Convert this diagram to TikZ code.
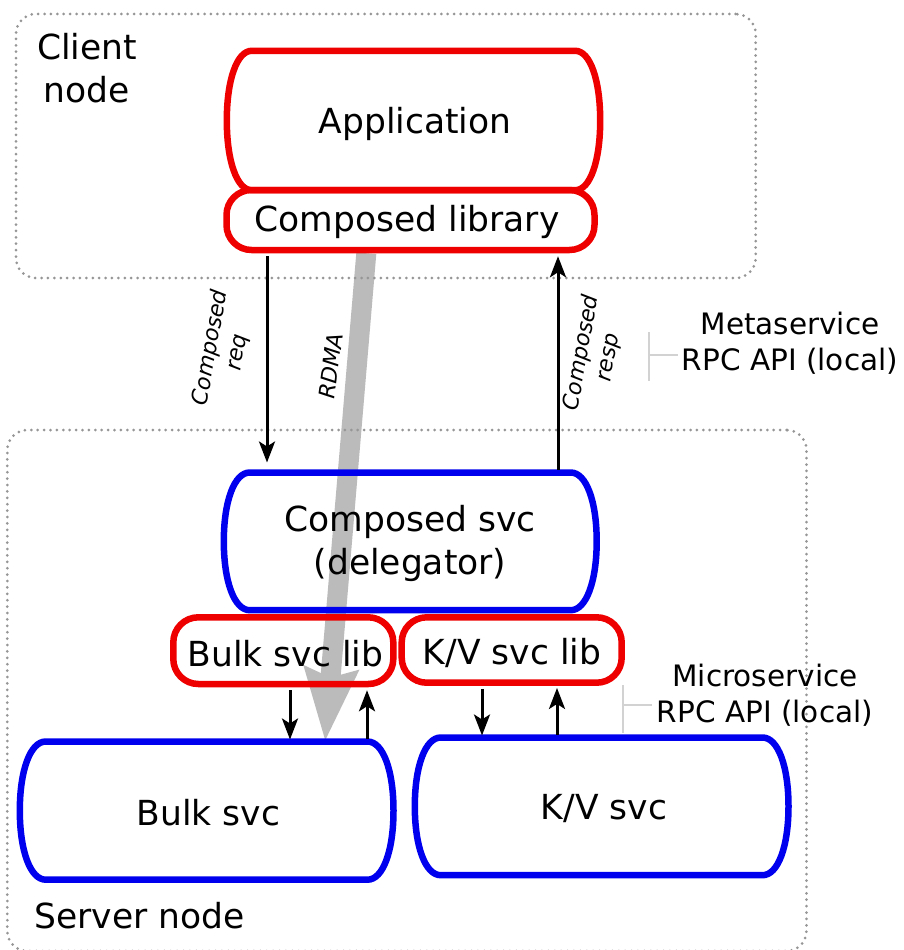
\documentclass[tikz,border=0pt]{standalone}
\usepackage{fontspec}
\setmainfont{DejaVu Sans}
\usetikzlibrary{calc,arrows.meta}
\definecolor{libred}{RGB}{238,0,0}
\definecolor{svcblue}{RGB}{0,0,238}
\definecolor{dotgray}{RGB}{150,150,150}
\definecolor{rdmagray}{RGB}{187,187,187}
\definecolor{brgray}{RGB}{210,210,210}
\pgfdeclarelayer{background}
\pgfsetlayers{background,main}

% barrel outline: straight top/bottom, sides bulging out to the node's east/west
\newcommand\drawbarrel[3]{%
  \draw[#1] ($(#2.north west)+(#3,0)$) -- ($(#2.north east)+(-#3,0)$)
    .. controls ($(#2.north east)+(-0.4*#3,0)$) and ($(#2.north east)!0.42!(#2.east)$) .. (#2.east)
    .. controls ($(#2.south east)!0.42!(#2.east)$) and ($(#2.south east)+(-0.4*#3,0)$) .. ($(#2.south east)+(-#3,0)$)
    -- ($(#2.south west)+(#3,0)$)
    .. controls ($(#2.south west)+(0.4*#3,0)$) and ($(#2.south west)!0.42!(#2.west)$) .. (#2.west)
    .. controls ($(#2.north west)!0.42!(#2.west)$) and ($(#2.north west)+(0.4*#3,0)$) .. cycle;
}

\tikzset{
  bigtxt/.style={font=\fontsize{34.5pt}{43pt}\selectfont},
  midtxt/.style={font=\fontsize{29.5pt}{36pt}\selectfont},
  smalltxt/.style={font=\fontsize{22pt}{27pt}\selectfont\itshape},
  boxnode/.style={bigtxt, inner sep=0pt, align=center},
  libbox/.style={boxnode, draw=libred, line width=6.5pt, rounded corners=25pt},
  redline/.style={draw=libred, line width=6.5pt},
  blueline/.style={draw=svcblue, line width=6.5pt},
  container/.style={draw=dotgray, line width=3pt, dash pattern=on 0pt off 6.4pt,
    line cap=round, rounded corners=20pt, inner sep=0pt},
  flow/.style={line width=3pt, -{Stealth[length=21pt,width=16pt,inset=5pt]}},
  rdma/.style={draw=rdmagray, line width=20pt, -{Stealth[length=72pt,width=52pt,inset=8pt]}},
  bracket/.style={draw=brgray, line width=2.5pt},
}

\begin{document}
\begin{tikzpicture}[x=1pt,y=-1pt]
\useasboundingbox (0,0) rectangle (904,950);

% node containers
\node[container, minimum width=739.7pt, minimum height=264pt] (client) at (385.85,146) {};
\node[container, minimum width=799.2pt, minimum height=521pt] (server) at (406.9,690.5) {};
\node[bigtxt, align=center, inner sep=0pt] (clientlbl) at (87,68) {Client\\node};
\node[bigtxt, inner sep=0pt] (serverlbl) at (139.5,916) {Server node};

% client side
\node[boxnode, minimum width=373pt, minimum height=139pt] (app) at (413.5,120.5) {};
\node[boxnode] (apptxt) at (415,124) {Application};
\node[libbox, minimum width=368pt, minimum height=60pt] (lib) at (410.5,220) {};
\node[boxnode] (libtxt) at (407,222) {Composed library};

% server side
\node[boxnode, minimum width=372.5pt, minimum height=137.3pt] (csvc) at (410.25,541.35) {};
\node[boxnode] (csvctxt) at (410,543) {Composed svc\\(delegator)};
\node[libbox, minimum width=220pt, minimum height=66.7pt] (blib) at (283.3,650.65) {};
\node[boxnode] (blibtxt) at (285.5,654) {Bulk svc lib};
\node[libbox, minimum width=220pt, minimum height=65.4pt] (kvlib) at (511.7,650) {};
\node[boxnode] (kvlibtxt) at (512,653) {K/V svc lib};
\node[boxnode, minimum width=373.3pt, minimum height=137.8pt] (bulk) at (206.65,810.6) {};
\node[boxnode] (bulktxt) at (208.5,813) {Bulk svc};
\node[boxnode, minimum width=373.3pt, minimum height=137.3pt] (kv) at (601.65,806.35) {};
\node[boxnode] (kvtxt) at (604,809) {K/V svc};

% RDMA transfer runs behind everything
\begin{pgfonlayer}{background}
  \draw[rdma] ($(lib.south west)!0.382!(lib.south east)$) -- ($(bulk.north west)!0.817!(bulk.north east)$);
\end{pgfonlayer}

\drawbarrel{redline}{app}{25}
\drawbarrel{blueline}{csvc}{26}
\drawbarrel{blueline}{bulk}{26}
\drawbarrel{blueline}{kv}{26}

% request / response flows
\draw[flow, shorten <=3pt, shorten >=10pt] (lib.south -| 267,0) -- (csvc.north -| 267,0);
\draw[flow, shorten <=3pt, shorten >=3pt] (csvc.north -| 558,0) -- (lib.south -| 558,0);
\draw[flow, shorten <=3pt, shorten >=2pt] (blib.south -| 290,0) -- (bulk.north -| 290,0);
\draw[flow, shorten <=3pt, shorten >=3pt] (bulk.north -| 367,0) -- (blib.south -| 367,0);
\draw[flow, shorten <=3pt, shorten >=2pt] (kvlib.south -| 482,0) -- (kv.north -| 482,0);
\draw[flow, shorten <=3pt, shorten >=2pt] (kv.north -| 557,0) -- (kvlib.south -| 557,0);

% flow labels
\node[smalltxt, align=center, rotate=80, inner sep=0pt] (reqlbl) at (224,350) {Composed\\req};
\node[smalltxt, rotate=83, inner sep=0pt] (rdmalbl) at (331,366) {RDMA};
\node[smalltxt, align=center, rotate=80, inner sep=0pt] (resplbl) at (595,355) {Composed\\resp};

% API annotations
\node[midtxt, align=center, inner sep=0pt] (meta) at (790,343) {Metaservice\\RPC API (local)};
\draw[bracket] (649,332) -- (649,381) (649,355) -- (678,355);
\node[midtxt, align=center, inner sep=0pt] (micro) at (765,695) {Microservice\\RPC API (local)};
\draw[bracket] (623,685) -- (623,733) (623,705) -- (652,705);
\end{tikzpicture}
\end{document}
